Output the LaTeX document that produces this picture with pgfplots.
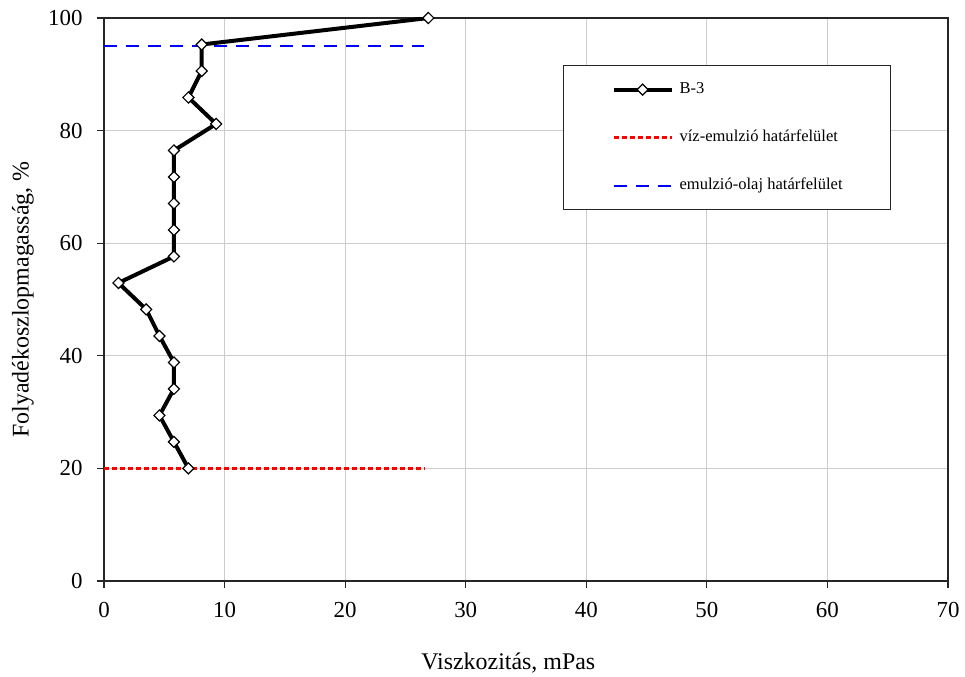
\documentclass[border=0pt]{standalone}
\usepackage{fontspec}
\setmainfont{Liberation Serif}
\usepackage{pgfplots}
\pgfplotsset{compat=1.18}
\begin{document}
\begin{tikzpicture}
\begin{axis}[
  scale only axis,
  width=422bp, height=281.5bp,
  at={(0,0)}, anchor=south west,
  xmin=0, xmax=70, ymin=0, ymax=100,
  xtick={0,10,...,70}, ytick={0,20,...,100},
  /pgf/number format/assume math mode=true,
  grid=major,
  major grid style={line width=0.5bp, draw=black!20},
  axis line style={line width=0.6bp, draw=black!85},
  tick style={line width=0.6bp, draw=black!85},
  tick align=outside, major tick length=3.5bp,
  xtick pos=bottom, ytick pos=left,
  ticklabel style={font=\fontsize{11.5}{13}\selectfont},
  xticklabel style={yshift=-3.5bp},
  yticklabel style={xshift=-3.7bp},
  xlabel={Viszkozitás, mPas},
  ylabel={Folyadékoszlopmagasság, \%},
  label style={font=\fontsize{12}{14}\selectfont},
  xlabel style={at={(axis description cs:0.479,-0.1457)}, anchor=center},
  ylabel style={at={(axis description cs:-0.096,0.5)}, anchor=center, rotate=0},
  legend image code/.code={\draw[mark repeat=2,mark phase=2,#1] plot coordinates {(0bp,0bp)(14.5bp,0bp)(29bp,0bp)};},
  legend style={at={(axis description cs:0.5438,0.9165)}, anchor=north west,
    draw=black!85, line width=0.6bp, fill=white,
    inner xsep=24bp, inner ysep=8bp,
    nodes={inner sep=0pt, text height=6bp, text depth=2bp},
    column sep=3bp, row sep=16bp,
    font=\fontsize{8.3}{10}\selectfont},
  legend cell align=left,
]
\addplot[red, line width=1.3bp, dash pattern=on 2.5bp off 1.5bp, forget plot] coordinates {(0,20) (26.6,20)};
\addplot[blue, line width=1bp, dash pattern=on 6.5bp off 4.5bp, forget plot] coordinates {(0,95) (26.5,95)};
\addplot[black, line width=2bp, mark=square*, mark size=1.95bp,
  mark options={rotate=45, fill=white, draw=black, line width=0.6bp, solid}]
  coordinates {
  (26.9,100)
  (8.1,95.29)
  (8.1,90.59)
  (7.0,85.88)
  (9.3,81.18)
  (5.8,76.47)
  (5.8,71.76)
  (5.8,67.06)
  (5.8,62.35)
  (5.8,57.65)
  (1.2,52.94)
  (3.5,48.24)
  (4.6,43.53)
  (5.8,38.82)
  (5.8,34.12)
  (4.6,29.41)
  (5.8,24.71)
  (7.0,20.0)
  };
\addlegendentry{B-3}
\addlegendimage{red, line width=1.3bp, dash pattern=on 2.5bp off 1.5bp}
\addlegendentry{víz-emulzió határfelület}
\addlegendimage{blue, line width=1bp, dash pattern=on 6.5bp off 4.5bp}
\addlegendentry{emulzió-olaj határfelület}
\end{axis}
\pgfresetboundingbox
\useasboundingbox (-52bp,-48bp) rectangle (430.5bp,290.5bp);
\end{tikzpicture}
\end{document}
